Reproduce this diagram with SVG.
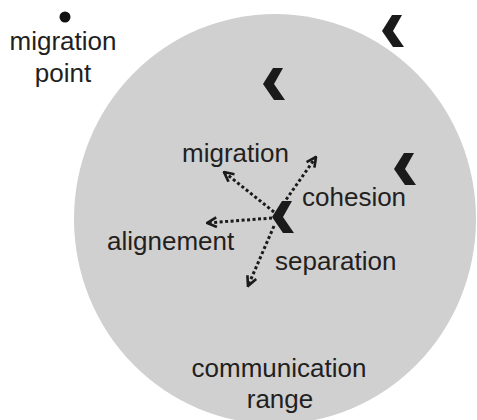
<svg xmlns="http://www.w3.org/2000/svg" width="477" height="420" viewBox="0 0 477 420">
  <style>
    .lbl { font-family: "Liberation Sans", Arial, sans-serif; font-size: 26px; fill: #231f20; text-anchor: start; }
    .mid { text-anchor: middle; }
    .range { fill: #d0d0d0; }
    .boid { fill: #1a1a1a; }
    .vec { fill: none; stroke: #1a1a1a; stroke-width: 3; stroke-dasharray: 3 2.5; }
  </style>
  <defs>
    <!-- chevron-shaped agent, pointing left, centred on the origin -->
    <path id="boid-shape" d="M -1,-16 L 9,-16 L 0,0 L 11,16 L 0,16 L -11,0 Z"/>
    <marker id="head" viewBox="0 0 10 10" refX="9" refY="5" markerWidth="4" markerHeight="4" orient="auto" markerUnits="strokeWidth">
      <path d="M 1,1 L 9,5 L 1,9" fill="none" stroke="#1a1a1a" stroke-width="2.2"/>
    </marker>
  </defs>

  <!-- communication range -->
  <g id="range">
    <ellipse class="range" cx="275" cy="219" rx="201" ry="205"/>
    <text class="lbl mid" x="279" y="377">communication</text>
    <text class="lbl mid" x="280" y="408">range</text>
  </g>

  <!-- migration target -->
  <g id="migration-point">
    <circle cx="65" cy="17" r="5.5" fill="#111"/>
    <text class="lbl mid" x="63" y="50">migration</text>
    <text class="lbl mid" x="63" y="82">point</text>
  </g>

  <!-- neighbouring agents -->
  <g id="boid-a"><use href="#boid-shape" class="boid" x="274" y="84"/></g>
  <g id="boid-b"><use href="#boid-shape" class="boid" x="393" y="31"/></g>
  <g id="boid-c"><use href="#boid-shape" class="boid" x="405" y="169"/></g>

  <!-- steering vectors of the focal agent -->
  <g id="connectors">
    <line class="vec" x1="274" y1="212" x2="224" y2="172" marker-end="url(#head)"/>
    <line class="vec" x1="283" y1="204" x2="316" y2="157" marker-end="url(#head)"/>
    <line class="vec" x1="272" y1="218" x2="207" y2="223" marker-end="url(#head)"/>
    <line class="vec" x1="274" y1="226" x2="248" y2="286" marker-end="url(#head)"/>
  </g>

  <!-- focal agent -->
  <g id="boid-focal"><use href="#boid-shape" class="boid" x="283" y="217"/></g>

  <!-- rule labels -->
  <g id="label-migration"><text class="lbl" x="182" y="162">migration</text></g>
  <g id="label-cohesion"><text class="lbl" x="302" y="206">cohesion</text></g>
  <g id="label-alignement"><text class="lbl" x="107" y="250">alignement</text></g>
  <g id="label-separation"><text class="lbl" x="275" y="270">separation</text></g>
</svg>
